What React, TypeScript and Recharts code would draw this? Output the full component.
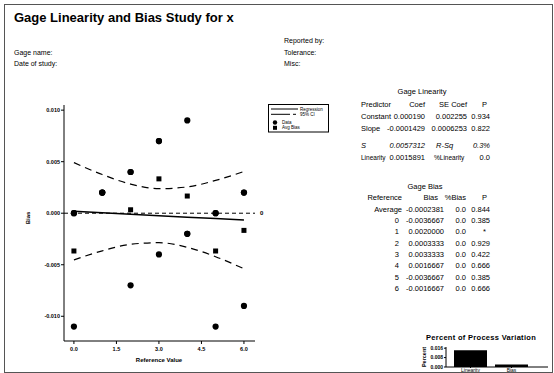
import React from 'react';
import { ComposedChart, Line, Scatter, XAxis, YAxis, ReferenceLine, BarChart, Bar } from 'recharts';

const refValues = [0, 1, 2, 3, 4, 5, 6];
const dataX = [0, 0, 0, 1, 1, 1, 2, 2, 2, 3, 3, 3, 4, 4, 4, 5, 5, 5, 6, 6, 6];
const dataBias = [0, 0, -0.011, 0.002, 0.002, 0.002, 0.004, 0.004, -0.007, 0.007, 0.007, -0.004, 0.009, -0.002, -0.002, 0, 0, -0.011, 0.002, 0.002, -0.009];
const avgBias = [-0.0036667, 0.002, 0.0003333, 0.0033333, 0.0016667, -0.0036667, -0.0016667];
const regression = [0.00019, 0.0000471, -0.0000958, -0.000239, -0.000382, -0.000524, -0.000667];
const ciUpper = [0.00491, 0.00375, 0.00283, 0.00238, 0.00255, 0.00318, 0.00405];
const ciLower = [-0.00453, -0.00365, -0.00302, -0.00286, -0.00331, -0.00422, -0.00539];
const xTicks = [0, 1.5, 3, 4.5, 6];
const yTicks = [-0.01, -0.005, 0, 0.005, 0.01];

const processCategories = ['Linearity', 'Bias'];
const processValues = [0.0142, 0.0021];
const processTicks = [0, 0.008, 0.016];

const linHeader = ['Predictor', 'Coef', 'SE Coef', 'P'];
const linRows = [
  ['Constant', '0.000190', '0.002255', '0.934'],
  ['Slope', '-0.0001429', '0.0006253', '0.822'],
];
const biasHeader = ['Reference', 'Bias', '%Bias', 'P'];
const biasRefs = ['Average', '0', '1', '2', '3', '4', '5', '6'];
const biasValues = ['-0.0002381', '-0.0036667', '0.0020000', '0.0003333', '0.0033333', '0.0016667', '-0.0036667', '-0.0016667'];
const biasPct = ['0.0', '0.0', '0.0', '0.0', '0.0', '0.0', '0.0', '0.0'];
const biasP = ['0.844', '0.385', '*', '0.929', '0.422', '0.666', '0.385', '0.666'];

const lineData = refValues.map((x, i) => ({ x, reg: regression[i], upper: ciUpper[i], lower: ciLower[i] }));
const points = dataX.map((x, i) => ({ x, y: dataBias[i] }));
const avgPoints = refValues.map((x, i) => ({ x, y: avgBias[i] }));
const processData = processCategories.map((name, i) => ({ name, value: processValues[i] }));

const FONT = '"Liberation Sans", Arial, sans-serif';

const Dot = (p: any) => <circle cx={p.cx} cy={p.cy} r={3.1} fill="#000" />;
const Sq = (p: any) => <rect x={p.cx - 2.5} y={p.cy - 2.5} width={5} height={5} fill="#000" />;

const tickStyle = { fontSize: 5.5, fill: '#000', fontFamily: FONT, fontWeight: 700 };

const FS = 7.5;
const C1 = 361, C2 = 425, C3 = 467, C4 = 490;
const B1 = 402, B2 = 444, B3 = 466, B4 = 490;

export default function App() {
  const rowY0 = 209;
  const rowStep = 11.35;
  const T = (props: any) => <text fontSize={FS} dominantBaseline="central" {...props} />;
  return (
    <div style={{ position: 'absolute', left: 0, top: 0, width: 554, height: 373, background: '#fff', fontFamily: FONT, overflow: 'hidden' }}>
      <div style={{ position: 'absolute', left: 0, top: 0 }}>
        <ComposedChart width={270} height={373} data={lineData} margin={{ top: 105, right: 15, bottom: 12, left: 30 }}>
          <XAxis type="number" dataKey="x" domain={[-0.35, 6.39]} ticks={xTicks} allowDataOverflow
            tickFormatter={(v: number) => v.toFixed(1)} height={20} tickSize={3} tickMargin={3}
            axisLine={{ stroke: '#000' }} tickLine={{ stroke: '#000' }} tick={tickStyle} interval={0} />
          <XAxis xAxisId="top" orientation="top" type="number" domain={[0, 1]} tick={false} tickLine={false} height={0} axisLine={{ stroke: '#000' }} />
          <YAxis type="number" domain={[-0.0124, 0.0105]} ticks={yTicks} allowDataOverflow
            tickFormatter={(v: number) => v.toFixed(3)} width={34} tickSize={3} tickMargin={1}
            axisLine={{ stroke: '#000' }} tickLine={{ stroke: '#000' }} tick={tickStyle} interval={0} />
          <YAxis yAxisId="right" orientation="right" type="number" domain={[0, 1]} tick={false} tickLine={false} width={0} axisLine={{ stroke: '#000' }} />
          <ReferenceLine y={0} stroke="#000" strokeDasharray="4 3" strokeWidth={1}
            label={{ value: '0', position: 'right', fontSize: 6, fill: '#000', offset: 5, fontFamily: FONT, fontWeight: 700 }} />
          <Line dataKey="upper" type="monotone" stroke="#000" strokeWidth={1.2} strokeDasharray="7 5" dot={false} isAnimationActive={false} />
          <Line dataKey="lower" type="monotone" stroke="#000" strokeWidth={1.2} strokeDasharray="7 5" dot={false} isAnimationActive={false} />
          <Line dataKey="reg" type="linear" stroke="#000" strokeWidth={1.5} dot={false} isAnimationActive={false} />
          <Scatter data={points} dataKey="y" shape={Dot} isAnimationActive={false} />
          <Scatter data={avgPoints} dataKey="y" shape={Sq} isAnimationActive={false} />
        </ComposedChart>
      </div>

      <div style={{ position: 'absolute', left: 400, top: 340 }}>
        <BarChart width={154} height={33} data={processData} margin={{ top: 7, right: 6, bottom: 0, left: 0 }} barSize={33}>
          <XAxis dataKey="name" height={6} tickSize={1} tickMargin={0} axisLine={{ stroke: '#000' }} tickLine={{ stroke: '#000' }}
            padding={{ left: 4, right: 16 }}
            tick={{ fontSize: 5, fill: '#000', fontFamily: FONT }} interval={0} />
          <XAxis xAxisId="top" orientation="top" dataKey="name" tick={false} tickLine={false} height={0} axisLine={{ stroke: '#000' }} />
          <YAxis type="number" domain={[0, 0.017]} ticks={processTicks} allowDataOverflow width={46} tickSize={2} tickMargin={1}
            tickFormatter={(v: number) => v.toFixed(3)} axisLine={{ stroke: '#000' }} tickLine={{ stroke: '#000' }}
            tick={{ fontSize: 5, fill: '#000', fontFamily: FONT, fontWeight: 700 }} interval={0} />
          <YAxis yAxisId="right" orientation="right" type="number" domain={[0, 1]} tick={false} tickLine={false} width={0} axisLine={{ stroke: '#000' }} />
          <Bar dataKey="value" fill="#000" isAnimationActive={false} />
        </BarChart>
      </div>

      <svg width={554} height={373} style={{ position: 'absolute', left: 0, top: 0, pointerEvents: 'none' }} fontFamily={FONT}>
        <rect x={4.5} y={4.5} width={548} height={368} fill="none" stroke="#555" strokeWidth={1} />
        <text x={14} y={17} fontSize={13} fontWeight={700} dominantBaseline="central">Gage Linearity and Bias Study for x</text>
        <text x={14} y={52} fontSize={7} dominantBaseline="central">Gage name:</text>
        <text x={14} y={63} fontSize={7} dominantBaseline="central">Date of study:</text>
        <text x={284} y={40} fontSize={7} dominantBaseline="central">Reported by:</text>
        <text x={284} y={52} fontSize={7} dominantBaseline="central">Tolerance:</text>
        <text x={284} y={63} fontSize={7} dominantBaseline="central">Misc:</text>

        <text x={28} y={218} fontSize={6} fontWeight={700} textAnchor="middle" dominantBaseline="central" transform="rotate(-90 28 218)">Bias</text>
        <text x={159} y={360} fontSize={6} fontWeight={700} textAnchor="middle" dominantBaseline="central">Reference Value</text>

        <rect x={268.5} y={104.5} width={60} height={27.5} fill="#fff" stroke="#000" strokeWidth={1} />
        <line x1={271} y1={109} x2={298} y2={109} stroke="#000" strokeWidth={1} />
        <text x={300} y={109} fontSize={4.5} dominantBaseline="central">Regression</text>
        <line x1={271} y1={114.3} x2={290} y2={114.3} stroke="#000" strokeWidth={1} />
        <line x1={293} y1={114.3} x2={296} y2={114.3} stroke="#000" strokeWidth={1} />
        <text x={300} y={114.3} fontSize={4.5} dominantBaseline="central">95% CI</text>
        <circle cx={275} cy={122.5} r={2.2} fill="#000" />
        <text x={282} y={122.5} fontSize={4.5} dominantBaseline="central">Data</text>
        <rect x={273} y={125.8} width={4} height={4} fill="#000" />
        <text x={282} y={127.8} fontSize={4.5} dominantBaseline="central">Avg Bias</text>

        <T x={422} y={91} textAnchor="middle">Gage Linearity</T>
        <T x={C1} y={104}>{linHeader[0]}</T>
        <T x={C2} y={104} textAnchor="end">{linHeader[1]}</T>
        <T x={C3} y={104} textAnchor="end">{linHeader[2]}</T>
        <T x={C4 - 3} y={104} textAnchor="end">{linHeader[3]}</T>
        {linRows.map((r, i) => (
          <g key={i}>
            <T x={C1} y={116.5 + i * 11.5}>{r[0]}</T>
            <T x={C2} y={116.5 + i * 11.5} textAnchor="end">{r[1]}</T>
            <T x={C3} y={116.5 + i * 11.5} textAnchor="end">{r[2]}</T>
            <T x={C4} y={116.5 + i * 11.5} textAnchor="end">{r[3]}</T>
          </g>
        ))}
        <T x={C1} y={145.5} fontStyle="italic">S</T>
        <T x={C2} y={145.5} fontStyle="italic" textAnchor="end">0.0057312</T>
        <T x={436} y={145.5} fontStyle="italic">R-Sq</T>
        <T x={C4} y={145.5} fontStyle="italic" textAnchor="end">0.3%</T>
        <T x={C1} y={157.5} fontSize={6.5}>Linearity</T>
        <T x={C2} y={157.5} textAnchor="end">0.0015891</T>
        <T x={434} y={157.5} fontSize={6.5}>%Linearity</T>
        <T x={C4} y={157.5} textAnchor="end">0.0</T>

        <T x={425} y={186} textAnchor="middle">Gage Bias</T>
        <T x={B1} y={197.5} textAnchor="end">{biasHeader[0]}</T>
        <T x={B2 - 6} y={197.5} textAnchor="end">{biasHeader[1]}</T>
        <T x={B3} y={197.5} textAnchor="end">{biasHeader[2]}</T>
        <T x={B4 - 3} y={197.5} textAnchor="end">{biasHeader[3]}</T>
        {biasRefs.map((r, i) => (
          <g key={i}>
            <T x={i === 0 ? B1 : B1 - 3} y={rowY0 + i * rowStep} textAnchor="end">{r}</T>
            <T x={B2} y={rowY0 + i * rowStep} textAnchor="end">{biasValues[i]}</T>
            <T x={B3} y={rowY0 + i * rowStep} textAnchor="end">{biasPct[i]}</T>
            <T x={biasP[i] === '*' ? B4 - 4 : B4} y={rowY0 + i * rowStep} textAnchor="end">{biasP[i]}</T>
          </g>
        ))}

        <text x={481} y={337} fontSize={7.5} fontWeight={700} letterSpacing={0.3} textAnchor="middle" dominantBaseline="central">Percent of Process Variation</text>
        <text x={424} y={357} fontSize={5.5} fontWeight={700} textAnchor="middle" dominantBaseline="central" transform="rotate(-90 424 357)">Percent</text>
      </svg>
    </div>
  );
}
